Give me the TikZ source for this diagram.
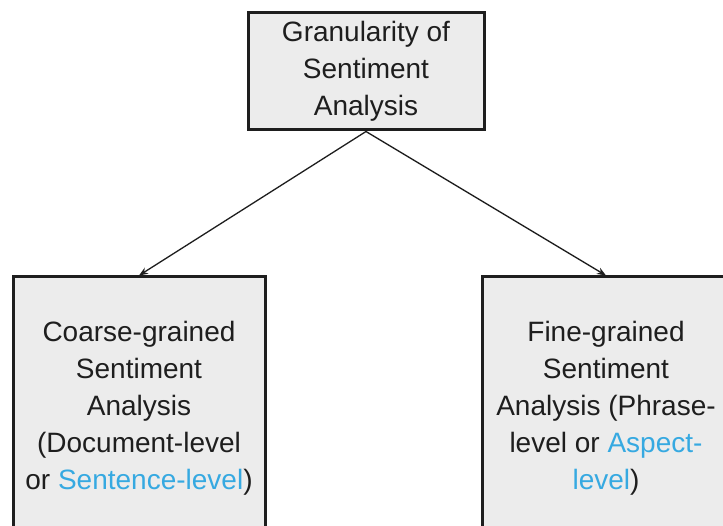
\documentclass[tikz,border=0pt]{standalone}
\usepackage{fontspec}
\setmainfont{Liberation Sans}
\usepackage{tikz}
\usetikzlibrary{positioning,arrows.meta}
\definecolor{ink}{HTML}{1E1E1E}
\definecolor{boxbg}{HTML}{ECECEC}
\definecolor{sky}{HTML}{36A9E1}
\tikzset{
  gbox/.style={rectangle,draw=ink,line width=3pt,fill=boxbg,align=center,
    inner sep=0pt,text=ink,font=\fontsize{28}{37}\selectfont},
  ar/.style={-{Stealth[length=9pt,width=7pt]},line width=1.3pt,draw=ink},
}
\newcommand{\hl}[1]{\textcolor{sky}{#1}}

\begin{document}
\begin{tikzpicture}[x=1pt,y=1pt]
  \clip (0,0) rectangle (723,-526);
  \fill[white] (0,0) rectangle (723,-526);
  \node[gbox,minimum width=236pt,minimum height=117pt] (gran) at (366,-71.5)
    {Granularity of\\Sentiment\\Analysis};
  \node[gbox,minimum width=252pt,minimum height=262pt,
    below=144pt of gran,xshift=-227pt] (coarse)
    {Coarse-grained\\Sentiment\\Analysis\\(Document-level\\or \hl{Sentence-level})};
  \node[gbox,minimum width=248pt,minimum height=262pt,
    below=144pt of gran,xshift=240pt] (fine)
    {Fine-grained\\Sentiment\\Analysis (Phrase-\\level or \hl{Aspect-}\\\hl{level})};
  \foreach \h in {coarse,fine} \draw[ar] (gran.south)--(\h.north);
\end{tikzpicture}
\end{document}
